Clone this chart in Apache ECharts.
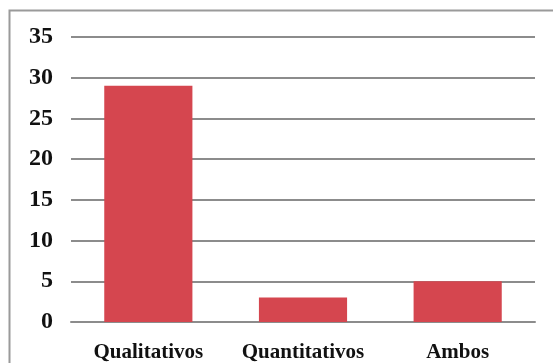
<!DOCTYPE html>
<html lang="pt">
<head>
<meta charset="UTF-8">
<title>Qualitativos / Quantitativos / Ambos</title>
<script src="https://cdn.jsdelivr.net/npm/echarts@6/dist/echarts.min.js"></script>
<style>
  html, body { margin: 0; padding: 0; background: #fff; }
  #chart { width: 553px; height: 363px; }
</style>
</head>
<body>
<div id="chart"></div>
<script>
var categories = ['Qualitativos', 'Quantitativos', 'Ambos'];
var values = [29, 3, 5];
var yTicks = { min: 0, max: 35, interval: 5 };

var myChart = echarts.init(document.getElementById('chart'), null, { renderer: 'canvas' });

// serif bold labels like the original
var labelFont = '"Liberation Serif", "DejaVu Serif", serif';

var option = {
    animation: false,
    graphic: [{
        type: 'rect',
        shape: { x: 9.5, y: 10.5, width: 560, height: 370 },
        style: { fill: 'none', stroke: '#9a9a9a', lineWidth: 2 },
        z: 0
    }],
    grid: { left: 71, right: 18, top: 37, bottom: 41 },
    xAxis: {
        type: 'category',
        data: categories,
        axisLine: { show: true, lineStyle: { color: '#8c8c8c', width: 2 } },
        axisTick: { show: false },
        axisLabel: {
            interval: 0,
            hideOverlap: false,
            margin: 20,
            fontFamily: labelFont,
            fontWeight: 'bold',
            fontSize: 21,
            color: '#111'
        }
    },
    yAxis: {
        type: 'value',
        min: yTicks.min,
        max: yTicks.max,
        interval: yTicks.interval,
        axisLine: { show: false },
        axisTick: { show: false },
        axisLabel: {
            margin: 18,
            fontFamily: labelFont,
            fontWeight: 'bold',
            fontSize: 24,
            color: '#111'
        },
        splitLine: { lineStyle: { color: '#8c8c8c', width: 2 } }
    },
    series: [{
        type: 'bar',
        data: values,
        barWidth: '57%',
        itemStyle: { color: '#d5464f' }
    }]
};

myChart.setOption(option);
</script>
</body>
</html>
